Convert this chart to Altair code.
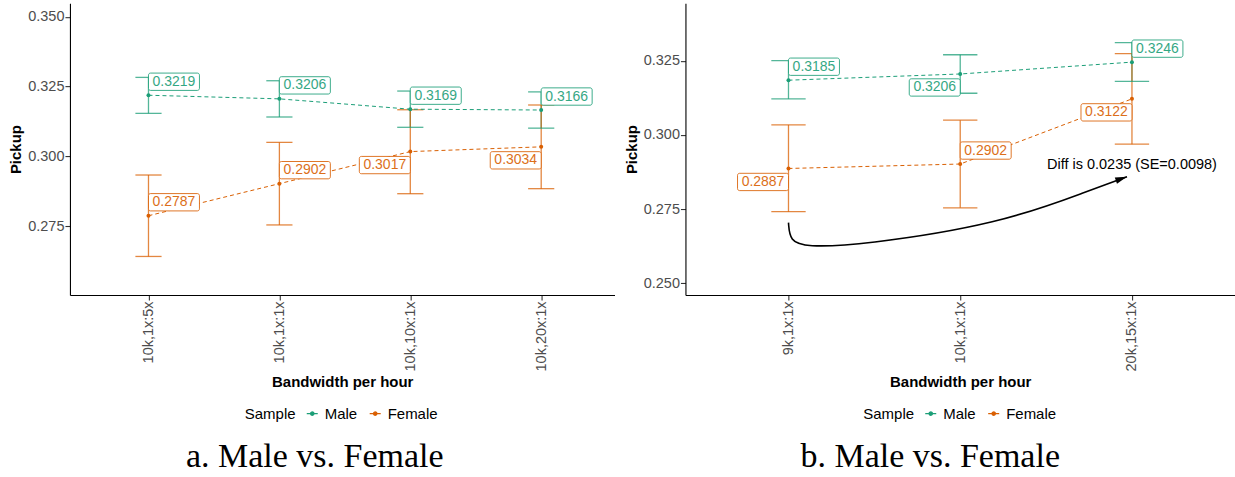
import json
import altair as alt
import pandas as pd

# ---- data -------------------------------------------------------------
samples = ["Male", "Female"]
colors = ["#1B9E77", "#D95F02"]

a_cats = ["10k,1x:5x", "10k,1x:1x", "10k,10x:1x", "10k,20x:1x"]
a_male = [0.3219, 0.3206, 0.3169, 0.3166]
a_male_lo = [0.3154, 0.3141, 0.3104, 0.3101]
a_male_hi = [0.3283, 0.3271, 0.3234, 0.3231]
a_female = [0.2787, 0.2902, 0.3017, 0.3034]
a_female_lo = [0.2641, 0.2754, 0.2866, 0.2884]
a_female_hi = [0.2933, 0.3050, 0.3167, 0.3184]
a_male_side = ["ur", "ur", "ur", "ur"]
a_female_side = ["ur", "ur", "ll", "ll"]

b_cats = ["9k,1x:1x", "10k,1x:1x", "20k,15x:1x"]
b_male = [0.3185, 0.3206, 0.3246]
b_male_lo = [0.3122, 0.3141, 0.3181]
b_male_hi = [0.3251, 0.3271, 0.3312]
b_female = [0.2887, 0.2902, 0.3122]
b_female_lo = [0.2741, 0.2754, 0.2969]
b_female_hi = [0.3034, 0.3050, 0.3275]
b_male_side = ["ur", "ll", "ur"]
b_female_side = ["ll", "ur", "ll"]

# curved arrow annotation: B-spline control points (category position, Pickup)
arrow_pos = [1.0, 1.008, 1.101, 1.421, 2.234, 2.758, 2.971]
arrow_val = [0.2704, 0.2642, 0.2622, 0.2628, 0.2700, 0.2814, 0.2859]
note_text = "Diff is 0.0235 (SE=0.0098)"
note_pos, note_val = 3, 0.2900

SANS = "Liberation Sans"
BOX = ("M-0.92,-0.34H0.92A0.08,0.08 0 0 1 1,-0.26V0.26A0.08,0.08 0 0 1 0.92,0.34"
       "H-0.92A0.08,0.08 0 0 1 -1,0.26V-0.26A0.08,0.08 0 0 1 -0.92,-0.34Z")
KEY = "M-1,0H1M-0.3,0A0.3,0.3 0 1,0 0.3,0A0.3,0.3 0 1,0 -0.3,0Z"
HEAD = "M0,0L0.5,1.75L-0.5,1.75Z"


def frame(cats, m, mlo, mhi, ms, f, flo, fhi, fs):
    rows = []
    for sample, vals, los, his, sides in [("Male", m, mlo, mhi, ms), ("Female", f, flo, fhi, fs)]:
        for i, c in enumerate(cats):
            rows.append(dict(cat=c, pos=i + 1, sample=sample, value=vals[i],
                             lo=los[i], hi=his[i], side=sides[i]))
    return pd.DataFrame(rows)


def panel(df, cats, xmax, width, ydom, yticks, title, legend_x, extra=None):
    height = 292
    xscale = alt.Scale(domain=[0.4, xmax], nice=False, zero=False)
    yscale = alt.Scale(domain=ydom, nice=False, zero=False)
    x = alt.X("pos:Q", scale=xscale,
              axis=alt.Axis(values=list(range(1, len(cats) + 1)),
                            labelExpr=json.dumps(cats) + "[datum.value - 1]",
                            title="Bandwidth per hour", labelAngle=270,
                            labelAlign="right", labelBaseline="middle",
                            titlePadding=3))
    y = alt.Y("value:Q", scale=yscale,
              axis=alt.Axis(values=yticks, format=".3f", title="Pickup",
                            titlePadding=4))
    sc = alt.Scale(domain=samples, range=colors)
    color = alt.Color("sample:N", scale=sc, legend=alt.Legend(
        title="Sample", orient="none", legendX=legend_x, legendY=403,
        direction="horizontal", titleOrient="left", titleFontWeight="normal",
        titleFontSize=15, labelFontSize=15, titleFont=SANS, labelFont=SANS,
        titleColor="black", labelColor="black", titlePadding=9,
        symbolType=KEY, symbolSize=121, symbolStrokeWidth=1.3, symbolDash=[1, 0],
        labelOffset=5, columnPadding=9))
    stroke = alt.Stroke("sample:N", scale=sc, legend=None)
    fill = alt.Fill("sample:N", scale=sc, legend=None)

    base = alt.Chart(df)
    cap = 0.2 * width / (xmax - 0.4)
    bars = base.mark_rule(strokeWidth=1.3, opacity=0.75).encode(
        x=x, y=alt.Y("lo:Q", scale=yscale), y2="hi:Q", stroke=stroke)
    cap_lo = base.mark_tick(orient="horizontal", size=cap, thickness=1.3, opacity=0.75).encode(
        x=x, y=alt.Y("lo:Q", scale=yscale), fill=fill)
    cap_hi = base.mark_tick(orient="horizontal", size=cap, thickness=1.3, opacity=0.75).encode(
        x=x, y=alt.Y("hi:Q", scale=yscale), fill=fill)
    line = base.mark_line(strokeWidth=1, strokeDash=[4, 3]).encode(
        x=x, y=y, color=color, detail="sample:N")
    pts = base.mark_circle(size=16, opacity=1).encode(x=x, y=y, color=color)

    labels = []
    for side, dx, dy in [("ur", 25.5, -13.5), ("ll", -25.5, 13.5)]:
        sub = base.transform_filter(alt.datum.side == side)
        labels.append(sub.mark_point(shape=BOX, size=2601, filled=False, fill="white",
                                     fillOpacity=1, strokeWidth=1, strokeOpacity=0.85,
                                     xOffset=dx, yOffset=dy).encode(x=x, y=y, stroke=stroke))
        labels.append(sub.mark_text(font=SANS, fontSize=14, xOffset=dx, yOffset=dy,
                                    opacity=0.9).encode(
            x=x, y=y, text=alt.Text("value:Q", format=".4f"), fill=fill))

    cap_title = alt.Chart(pd.DataFrame({"t": [title]})).mark_text(
        font="Liberation Serif", fontSize=34, align="center", baseline="alphabetic",
        color="black").encode(text="t:N", x=alt.value(245), y=alt.value(464))

    layers = [bars, cap_lo, cap_hi, line, pts] + labels + (extra or []) + [cap_title]
    return alt.layer(*layers).properties(width=width, height=height)


df_a = frame(a_cats, a_male, a_male_lo, a_male_hi, a_male_side,
             a_female, a_female_lo, a_female_hi, a_female_side)
df_b = frame(b_cats, b_male, b_male_lo, b_male_hi, b_male_side,
             b_female, b_female_lo, b_female_hi, b_female_side)

b_xscale = alt.Scale(domain=[0.4, 3.6], nice=False, zero=False)
b_yscale = alt.Scale(domain=[0.2460, 0.3445], nice=False, zero=False)
arrow_df = pd.DataFrame({"pos": arrow_pos, "value": arrow_val})
curve = alt.Chart(arrow_df).mark_line(interpolate="basis", color="black", strokeWidth=1.6).encode(
    x=alt.X("pos:Q", scale=b_xscale), y=alt.Y("value:Q", scale=b_yscale))
head = alt.Chart(arrow_df.tail(1)).mark_point(shape=HEAD, size=180, angle=71, filled=True,
                                               color="black", opacity=1).encode(
    x=alt.X("pos:Q", scale=b_xscale), y=alt.Y("value:Q", scale=b_yscale))
note = alt.Chart(pd.DataFrame({"pos": [note_pos], "value": [note_val], "t": [note_text]})).mark_text(
    font=SANS, fontSize=14.5, color="black", align="center", baseline="middle").encode(
    x=alt.X("pos:Q", scale=b_xscale), y=alt.Y("value:Q", scale=b_yscale), text="t:N")

left = panel(df_a, a_cats, 4.56, 545, [0.2503, 0.3549], [0.275, 0.300, 0.325, 0.350],
             "a.  Male vs.  Female", 175)
right = panel(df_b, b_cats, 3.6, 550, [0.2460, 0.3445], [0.250, 0.275, 0.300, 0.325],
              "b.  Male vs.  Female", 178, extra=[curve, head, note])

chart = alt.hconcat(left, right, spacing=9).resolve_legend(color="independent").properties(
    padding={"left": 8, "top": 3, "right": 0, "bottom": 0}, background="white"
).configure_view(stroke=None).configure_axis(
    grid=False, domainColor="black", domainWidth=1.1, tickColor="#333333", tickSize=5,
    tickWidth=1.1, labelColor="#4D4D4D", labelFont=SANS, labelFontSize=14.5, labelPadding=1,
    titleFont=SANS, titleFontSize=15, titleFontWeight="bold", titleColor="black"
)

chart.save("out.html", embed_options={"renderer": "svg", "actions": False})
